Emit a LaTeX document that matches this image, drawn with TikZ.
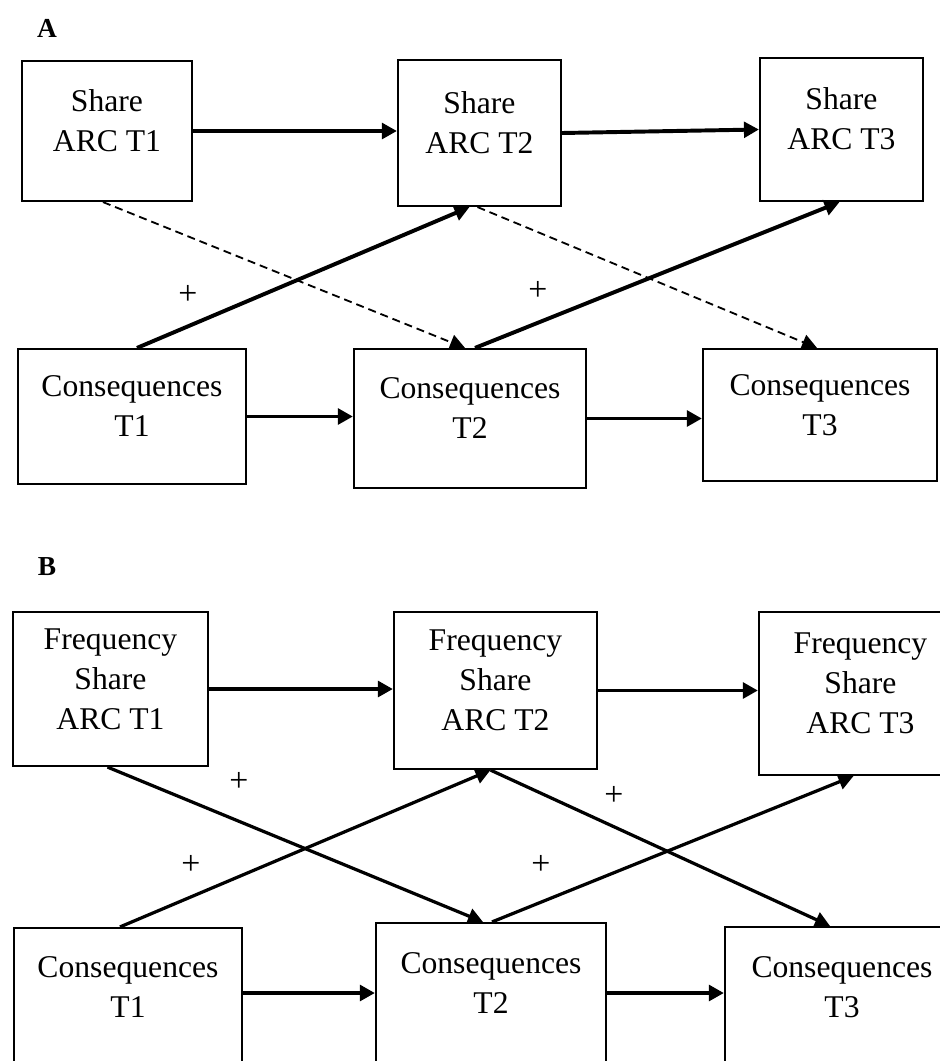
\documentclass[tikz,border=0pt]{standalone}
\usepackage{fontspec}
\setmainfont{Liberation Serif}
\usepackage{tikz}
\usetikzlibrary{arrows.meta,calc}
\tikzset{
  >={Triangle[length=3.75mm,width=3.9mm]},
  box/.style    ={draw,line width=1.5pt,align=center,inner sep=2pt,
                  font=\fontsize{22.5}{28.45}\selectfont,
                  text height=1cm,text depth=0pt},
  box3/.style   ={box,text height=2cm},
  panel/.style  ={font=\fontsize{19.5}{23}\selectfont\bfseries,inner sep=0pt},
  sign/.style   ={font=\fontsize{24}{28}\selectfont,inner sep=0pt},
  flow/.style   ={->,line width=2.8pt},
  cross/.style  ={->,line width=2.3pt},
  dashflow/.style={->,line width=1.3pt,dash pattern=on 0.2cm off 0.125cm},
}

\begin{document}
\begin{tikzpicture}[x=0.025cm,y=-0.025cm]
\useasboundingbox (0,0) rectangle (940,1061);
% panel A
\node[panel] (lblA) at (47,28) {A};
\node[box,minimum width=4.25cm,minimum height=3.5cm] (sA1) at (107,131) {Share\\ARC T1};
\node[box,minimum width=4.075cm,minimum height=3.65cm] (sA2) at (479.5,133) {Share\\ARC T2};
\node[box,minimum width=4.075cm,minimum height=3.575cm] (sA3) at (841.5,129.5) {Share\\ARC T3};
\node[box,minimum width=5.7cm,minimum height=3.375cm] (cA1) at (132,416.5) {Consequences\\T1};
\node[box,minimum width=5.8cm,minimum height=3.475cm] (cA2) at (470,418.5) {Consequences\\T2};
\node[box,minimum width=5.85cm,minimum height=3.3cm] (cA3) at (820,415) {Consequences\\T3};
\draw[flow] (sA1.east) -- (sA1.east -| sA2.west);
\draw[flow] (sA2.east) -- (sA3.west);
\draw[flow] (cA1.east) -- (cA1.east -| cA2.west);
\draw[flow] (cA2.east) -- (cA2.east -| cA3.west);
\draw[flow] ($(cA1.north)+(5,0)$) -- ($(sA2.south)+(-10,0)$);
\draw[flow] ($(cA2.north)+(5,0)$) -- ($(sA3.south)+(-2,0)$);
\draw[dashflow] ($(sA1.south)+(-4,0)$) -- ($(cA2.north)+(-5,0)$);
\draw[dashflow] ($(sA2.south)+(-2,0)$) -- ($(cA3.north)+(-3,0)$);
\node[sign] (pA1) at (188,295) {+};
\node[sign] (pA2) at (538,291) {+};
% panel B
\node[panel] (lblB) at (47,567) {B};
\node[box3,minimum width=4.875cm,minimum height=3.85cm] (sB1) at (110.5,689) {Frequency\\Share\\ARC T1};
\node[box3,minimum width=5.075cm,minimum height=3.925cm] (sB2) at (495.5,690.5) {Frequency\\Share\\ARC T2};
\node[box3,minimum width=5.075cm,minimum height=4.075cm] (sB3) at (860.5,693.5) {Frequency\\Share\\ARC T3};
\node[box,minimum width=5.7cm,minimum height=3.45cm] (cB1) at (128,997) {Consequences\\T1};
\node[box,minimum width=5.75cm,minimum height=3.5cm] (cB2) at (491,993) {Consequences\\T2};
\node[box,minimum width=5.85cm,minimum height=3.5cm] (cB3) at (842,997) {Consequences\\T3};
\draw[flow] (sB1.east) -- (sB1.east -| sB2.west);
\draw[flow] (sB2.east) -- (sB2.east -| sB3.west);
\draw[flow] ([yshift=0.1cm]cB1.east) -- ([yshift=0.1cm]cB1.east -| cB2.west);
\draw[flow] (cB2.east) -- (cB2.east -| cB3.west);
\draw[cross] ($(sB1.south)+(-3,0)$) -- ($(cB2.north)+(-8,0)$);
\draw[cross] ($(cB1.north)+(-8,0)$) -- ($(sB2.south)+(-5,0)$);
\draw[cross] ($(sB2.south)+(-5,0)$) -- ($(cB3.north)+(-12,0)$);
\draw[cross] ($(cB2.north)+(1,0)$) -- ($(sB3.south)+(-7,0)$);
\node[sign] (pB1) at (239,782) {+};
\node[sign] (pB2) at (614,796) {+};
\node[sign] (pB3) at (191,865) {+};
\node[sign] (pB4) at (541,865) {+};
\end{tikzpicture}
\end{document}
